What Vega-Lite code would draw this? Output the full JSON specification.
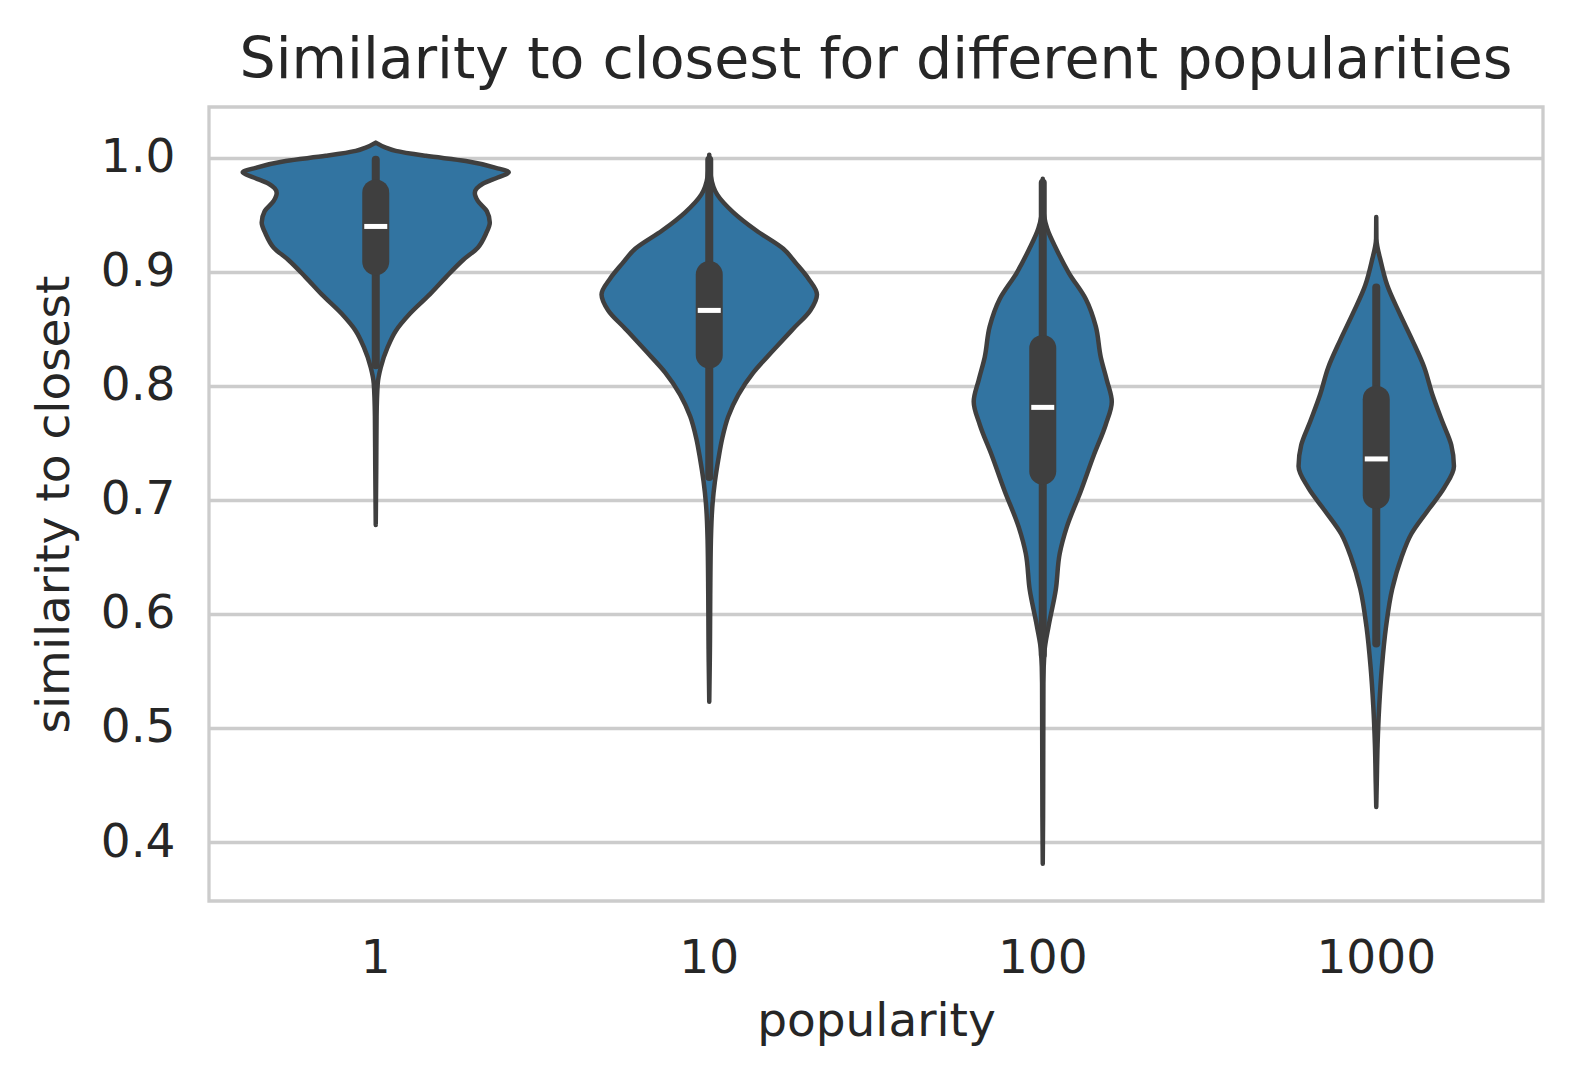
{
  "$schema": "https://vega.github.io/schema/vega-lite/v6.json",
  "width": 1334,
  "height": 794,
  "autosize": {"type": "none"},
  "padding": {"left": 209, "top": 107, "right": 35, "bottom": 180},
  "background": "white",
  "title": {
    "text": "Similarity to closest for different popularities",
    "font": "DejaVu Sans",
    "fontSize": 57,
    "fontWeight": "normal",
    "color": "#262626",
    "frame": "group",
    "offset": 17
  },
  "datasets": {
    "violins": [
      {"pop": "1", "sim": 1.0131, "w": 0},
      {"pop": "1", "sim": 1.0087, "w": 0.06},
      {"pop": "1", "sim": 1.0058, "w": 0.12},
      {"pop": "1", "sim": 1.0015, "w": 0.3},
      {"pop": "1", "sim": 0.997, "w": 0.54},
      {"pop": "1", "sim": 0.991, "w": 0.72},
      {"pop": "1", "sim": 0.987, "w": 0.798},
      {"pop": "1", "sim": 0.9825, "w": 0.732},
      {"pop": "1", "sim": 0.977, "w": 0.642},
      {"pop": "1", "sim": 0.969, "w": 0.594},
      {"pop": "1", "sim": 0.962, "w": 0.612},
      {"pop": "1", "sim": 0.953, "w": 0.666},
      {"pop": "1", "sim": 0.943, "w": 0.684},
      {"pop": "1", "sim": 0.933, "w": 0.66},
      {"pop": "1", "sim": 0.921, "w": 0.612},
      {"pop": "1", "sim": 0.91, "w": 0.522},
      {"pop": "1", "sim": 0.895, "w": 0.42},
      {"pop": "1", "sim": 0.88, "w": 0.324},
      {"pop": "1", "sim": 0.863, "w": 0.204},
      {"pop": "1", "sim": 0.848, "w": 0.12},
      {"pop": "1", "sim": 0.834, "w": 0.072},
      {"pop": "1", "sim": 0.816, "w": 0.03},
      {"pop": "1", "sim": 0.802, "w": 0.012},
      {"pop": "1", "sim": 0.773, "w": 0.005},
      {"pop": "1", "sim": 0.729, "w": 0.003},
      {"pop": "1", "sim": 0.678, "w": 0},
      {"pop": "10", "sim": 1.0025, "w": 0},
      {"pop": "10", "sim": 0.9834, "w": 0.01},
      {"pop": "10", "sim": 0.9675, "w": 0.048},
      {"pop": "10", "sim": 0.952, "w": 0.144},
      {"pop": "10", "sim": 0.936, "w": 0.282},
      {"pop": "10", "sim": 0.92, "w": 0.444},
      {"pop": "10", "sim": 0.907, "w": 0.522},
      {"pop": "10", "sim": 0.894, "w": 0.594},
      {"pop": "10", "sim": 0.88, "w": 0.646},
      {"pop": "10", "sim": 0.866, "w": 0.606},
      {"pop": "10", "sim": 0.85, "w": 0.504},
      {"pop": "10", "sim": 0.831, "w": 0.384},
      {"pop": "10", "sim": 0.8115, "w": 0.264},
      {"pop": "10", "sim": 0.792, "w": 0.174},
      {"pop": "10", "sim": 0.773, "w": 0.114},
      {"pop": "10", "sim": 0.754, "w": 0.078},
      {"pop": "10", "sim": 0.735, "w": 0.054},
      {"pop": "10", "sim": 0.716, "w": 0.034},
      {"pop": "10", "sim": 0.697, "w": 0.02},
      {"pop": "10", "sim": 0.665, "w": 0.01},
      {"pop": "10", "sim": 0.617, "w": 0.006},
      {"pop": "10", "sim": 0.569, "w": 0.004},
      {"pop": "10", "sim": 0.523, "w": 0},
      {"pop": "100", "sim": 0.9814, "w": 0},
      {"pop": "100", "sim": 0.958, "w": 0.002},
      {"pop": "100", "sim": 0.938, "w": 0.026},
      {"pop": "100", "sim": 0.919, "w": 0.084},
      {"pop": "100", "sim": 0.899, "w": 0.156},
      {"pop": "100", "sim": 0.876, "w": 0.258},
      {"pop": "100", "sim": 0.852, "w": 0.318},
      {"pop": "100", "sim": 0.825, "w": 0.348},
      {"pop": "100", "sim": 0.805, "w": 0.384},
      {"pop": "100", "sim": 0.786, "w": 0.414},
      {"pop": "100", "sim": 0.766, "w": 0.378},
      {"pop": "100", "sim": 0.739, "w": 0.306},
      {"pop": "100", "sim": 0.7075, "w": 0.228},
      {"pop": "100", "sim": 0.676, "w": 0.144},
      {"pop": "100", "sim": 0.653, "w": 0.102},
      {"pop": "100", "sim": 0.621, "w": 0.078},
      {"pop": "100", "sim": 0.59, "w": 0.036},
      {"pop": "100", "sim": 0.5665, "w": 0.01},
      {"pop": "100", "sim": 0.539, "w": 0.004},
      {"pop": "100", "sim": 0.48, "w": 0.003},
      {"pop": "100", "sim": 0.422, "w": 0.002},
      {"pop": "100", "sim": 0.381, "w": 0},
      {"pop": "1000", "sim": 0.9478, "w": 0},
      {"pop": "1000", "sim": 0.929, "w": 0.001},
      {"pop": "1000", "sim": 0.9085, "w": 0.028},
      {"pop": "1000", "sim": 0.888, "w": 0.066},
      {"pop": "1000", "sim": 0.864, "w": 0.138},
      {"pop": "1000", "sim": 0.84, "w": 0.216},
      {"pop": "1000", "sim": 0.816, "w": 0.288},
      {"pop": "1000", "sim": 0.7925, "w": 0.336},
      {"pop": "1000", "sim": 0.7686, "w": 0.396},
      {"pop": "1000", "sim": 0.748, "w": 0.45},
      {"pop": "1000", "sim": 0.7294, "w": 0.466},
      {"pop": "1000", "sim": 0.7106, "w": 0.408},
      {"pop": "1000", "sim": 0.69, "w": 0.306},
      {"pop": "1000", "sim": 0.67, "w": 0.21},
      {"pop": "1000", "sim": 0.649, "w": 0.15},
      {"pop": "1000", "sim": 0.622, "w": 0.096},
      {"pop": "1000", "sim": 0.588, "w": 0.058},
      {"pop": "1000", "sim": 0.5536, "w": 0.034},
      {"pop": "1000", "sim": 0.5195, "w": 0.018},
      {"pop": "1000", "sim": 0.4853, "w": 0.008},
      {"pop": "1000", "sim": 0.451, "w": 0.003},
      {"pop": "1000", "sim": 0.4307, "w": 0}
    ],
    "boxes": [
      {"pop": "1", "lo": 0.818, "q1": 0.9087, "med": 0.9396, "q3": 0.969, "hi": 0.998},
      {"pop": "10", "lo": 0.72, "q1": 0.827, "med": 0.866, "q3": 0.8975, "hi": 0.998},
      {"pop": "100", "lo": 0.564, "q1": 0.725, "med": 0.781, "q3": 0.8327, "hi": 0.978},
      {"pop": "1000", "lo": 0.574, "q1": 0.7037, "med": 0.7358, "q3": 0.7882, "hi": 0.886}
    ]
  },
  "resolve": {"scale": {"x": "independent"}},
  "layer": [
    {
      "data": {"name": "violins"},
      "transform": [{"filter": "datum.pop == '1'"}],
      "mark": {"type": "area", "orient": "horizontal", "interpolate": "monotone", "fill": "#3274a1", "stroke": "#3f3f3f", "strokeWidth": 4.5, "strokeJoin": "round"},
      "encoding": {
        "y": {"field": "sim", "type": "quantitative", "title": "similarity to closest", "scale": {"domain": [0.3483, 1.0443], "nice": false, "zero": false}},
        "x": {"field": "w", "type": "quantitative", "stack": "center", "scale": {"domain": [-0.101, 3.899], "nice": false, "zero": false}, "axis": null}
      }
    },
    {
      "data": {"name": "violins"},
      "transform": [{"filter": "datum.pop == '10'"}],
      "mark": {"type": "area", "orient": "horizontal", "interpolate": "monotone", "fill": "#3274a1", "stroke": "#3f3f3f", "strokeWidth": 4.5, "strokeJoin": "round"},
      "encoding": {
        "y": {"field": "sim", "type": "quantitative", "title": "similarity to closest", "scale": {"domain": [0.3483, 1.0443], "nice": false, "zero": false}},
        "x": {"field": "w", "type": "quantitative", "stack": "center", "scale": {"domain": [-1.177, 2.823], "nice": false, "zero": false}, "axis": null}
      }
    },
    {
      "data": {"name": "violins"},
      "transform": [{"filter": "datum.pop == '100'"}],
      "mark": {"type": "area", "orient": "horizontal", "interpolate": "monotone", "fill": "#3274a1", "stroke": "#3f3f3f", "strokeWidth": 4.5, "strokeJoin": "round"},
      "encoding": {
        "y": {"field": "sim", "type": "quantitative", "title": "similarity to closest", "scale": {"domain": [0.3483, 1.0443], "nice": false, "zero": false}},
        "x": {"field": "w", "type": "quantitative", "stack": "center", "scale": {"domain": [-2.293, 1.707], "nice": false, "zero": false}, "axis": null}
      }
    },
    {
      "data": {"name": "violins"},
      "transform": [{"filter": "datum.pop == '1000'"}],
      "mark": {"type": "area", "orient": "horizontal", "interpolate": "monotone", "fill": "#3274a1", "stroke": "#3f3f3f", "strokeWidth": 4.5, "strokeJoin": "round"},
      "encoding": {
        "y": {"field": "sim", "type": "quantitative", "title": "similarity to closest", "scale": {"domain": [0.3483, 1.0443], "nice": false, "zero": false}},
        "x": {"field": "w", "type": "quantitative", "stack": "center", "scale": {"domain": [-3.267, 0.733], "nice": false, "zero": false}, "axis": null}
      }
    },
    {
      "data": {"name": "boxes"},
      "encoding": {
        "x": {"field": "pop", "type": "nominal", "sort": ["1", "10", "100", "1000"], "title": "popularity", "scale": {"paddingInner": 0, "paddingOuter": 0}, "axis": {"labelAngle": 0}}
      },
      "layer": [
        {
          "mark": {"type": "rule", "color": "#3f3f3f", "strokeWidth": 8, "strokeCap": "round"},
          "encoding": {
            "y": {"field": "lo", "type": "quantitative", "title": "similarity to closest", "scale": {"domain": [0.3483, 1.0443], "nice": false, "zero": false}},
            "y2": {"field": "hi"}
          }
        },
        {
          "mark": {"type": "rule", "color": "#3f3f3f", "strokeWidth": 27, "strokeCap": "round"},
          "encoding": {
            "y": {"field": "q1", "type": "quantitative", "title": "similarity to closest", "scale": {"domain": [0.3483, 1.0443], "nice": false, "zero": false}},
            "y2": {"field": "q3"}
          }
        },
        {
          "mark": {"type": "tick", "color": "white", "size": 23, "thickness": 5, "opacity": 1},
          "encoding": {
            "y": {"field": "med", "type": "quantitative", "title": "similarity to closest", "scale": {"domain": [0.3483, 1.0443], "nice": false, "zero": false}}
          }
        }
      ]
    }
  ],
  "config": {
    "font": "DejaVu Sans",
    "view": {"stroke": "#cccccc", "strokeWidth": 3.3},
    "axis": {
      "labelFont": "DejaVu Sans",
      "titleFont": "DejaVu Sans",
      "labelFontSize": 47,
      "titleFontSize": 47,
      "titleFontWeight": "normal",
      "labelColor": "#262626",
      "titleColor": "#262626",
      "domain": false,
      "ticks": false,
      "labelPadding": 34
    },
    "axisY": {
      "grid": true,
      "gridColor": "#cccccc",
      "gridWidth": 3.3,
      "tickCount": 7,
      "titlePadding": 22
    },
    "axisX": {
      "grid": false,
      "titlePadding": 17
    }
  }
}
